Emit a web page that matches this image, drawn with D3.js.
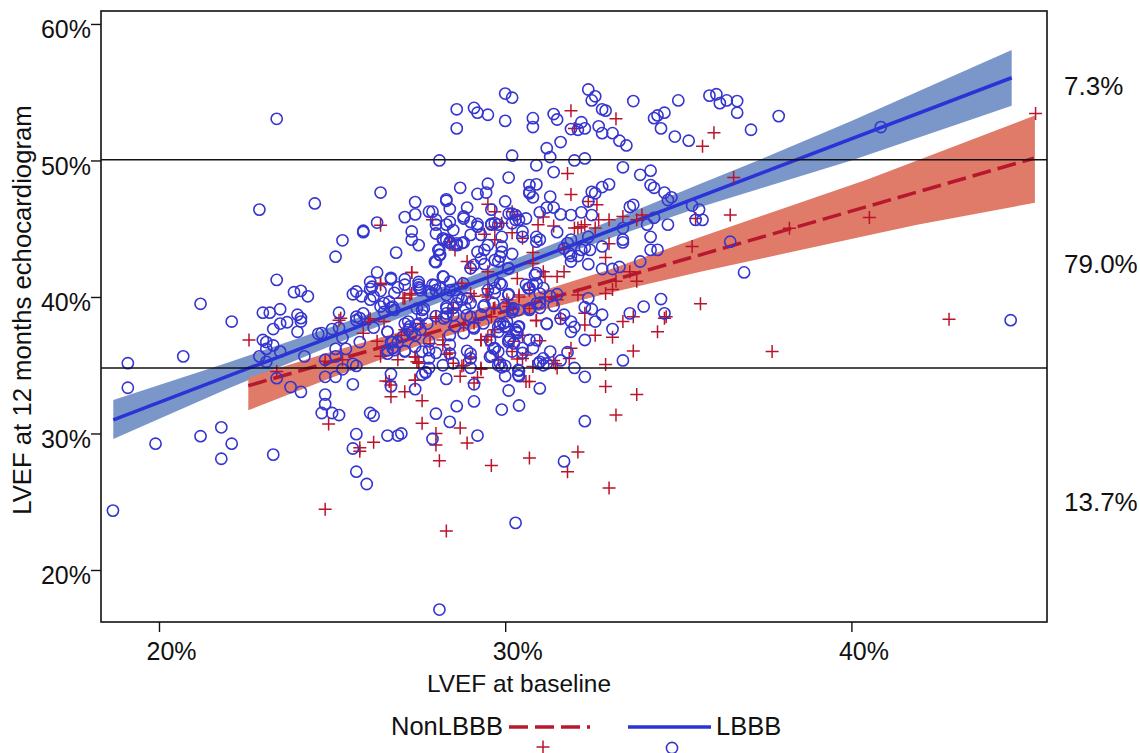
<!DOCTYPE html>
<html>
<head>
<meta charset="utf-8">
<script src="https://cdnjs.cloudflare.com/ajax/libs/d3/7.8.5/d3.min.js"></script>
<style>
  body { margin: 0; background: #fff; }
  text { font-family: "Liberation Sans", Arial, sans-serif; fill: #111; }
</style>
</head>
<body>
<svg id="chart" width="1140" height="753"></svg>
<script>
//values, all in % LVEF
const xTicks = [20, 30, 40];
const yTicks = [20, 30, 40, 50, 60];
const cutoffs = [50.05, 34.8];
const sideLabels = [["7.3%", 54.8], ["79.0%", 41.76], ["13.7%", 24.3]];

//LBBB fit and band
const lbbbFitX = [18.68, 44.63];
const lbbbFitY = [31.0, 56.06];
const lbbbBandX = [18.68, 22, 26, 29, 32, 35.64, 37.3, 40, 44.63];
const lbbbBandHi = [32.45, 35.2, 38.7, 41.5, 44.5, 48.3, 50.0, 52.9, 58.1];
const lbbbBandLo = [29.6, 33.3, 37.5, 40.5, 43.4, 46.6, 47.9, 50.0, 54.0];

//NonLBBB fit and band
const nonFitX = [22.58, 45.27];
const nonFitY = [33.5, 50.16];
const nonBandX = [22.58, 25, 28, 31, 33, 35.64, 40.46, 41.9, 45.3];
const nonBandHi = [34.1, 36.0, 38.2, 40.4, 42.0, 44.4, 48.6, 50.0, 53.3];
const nonBandLo = [31.7, 34.1, 36.9, 39.0, 40.3, 41.85, 44.5, 45.3, 46.9];

const lbbbPoints = [
[30.0,54.9],[30.2,54.6],[32.4,55.2],[32.6,54.7],[32.5,54.4],[32.8,53.75],[32.9,53.65],[33.7,54.35],[35.0,54.4],[34.6,53.5],
[34.4,53.3],[34.3,53.1],[34.5,52.35],[34.9,51.75],[35.3,51.45],[28.6,53.75],[29.1,53.85],[29.2,53.5],[29.5,53.35],[28.6,52.35],
[30.0,52.9],[30.8,53.1],[30.8,52.45],[31.4,53.4],[31.5,53.0],[32.2,52.8],[31.9,52.3],[32.1,52.25],[32.3,52.35],[32.7,52.5],
[32.8,52.0],[33.1,52.0],[33.3,51.45],[33.5,51.1],[31.6,51.35],[31.2,50.9],[31.3,50.25],[32.0,50.0],[32.3,50.15],[30.2,50.35],
[28.1,50.0],[30.9,49.65],[31.4,49.15],[33.4,49.5],[33.9,48.95],[34.2,49.25],[30.1,48.75],[33.0,48.25],[32.8,48.05],[32.5,47.7],
[32.6,47.6],[34.2,48.2],[34.3,48.0],[34.6,47.65],[34.7,47.1],[34.8,47.3],[35.4,46.7],[35.5,45.65],[28.7,48.0],[29.5,48.3],
[29.45,47.65],[29.2,47.55],[30.7,48.2],[30.9,48.25],[30.7,47.7],[30.7,47.6],[30.8,47.3],[31.3,47.35],[28.3,47.15],[28.3,47.05],
[27.4,46.95],[30.0,47.0],[28.9,46.55],[28.4,46.45],[27.9,46.25],[27.8,46.25],[27.4,46.05],[27.1,45.85],[31.2,46.55],[31.4,46.55],
[31.0,46.2],[31.6,46.05],[31.9,46.0],[32.2,46.2],[32.5,46.0],[33.6,46.6],[33.7,46.75],[32.4,47.0],[34.7,45.3],[34.3,45.8],
[34.1,45.3],[34.2,44.4],[34.2,43.45],[34.4,43.45],[33.4,45.05],[33.4,44.2],[33.4,44.0],[32.8,43.7],[32.8,42.05],[32.4,42.4],
[33.1,42.05],[33.3,42.2],[33.9,42.6],[32.2,43.45],[32.3,43.6],[32.45,43.45],[32.1,43.0],[31.9,42.6],[31.9,43.0],[31.85,43.2],
[31.9,44.2],[31.8,43.95],[31.7,43.55],[32.4,44.4],[31.5,44.75],[30.9,44.4],[31.0,44.2],[30.9,44.05],[30.5,44.8],[30.5,44.4],
[30.2,46.1],[30.3,46.0],[30.1,46.1],[30.4,45.65],[30.6,45.75],[30.3,45.65],[30.2,45.4],[29.6,46.4],[29.6,45.3],[29.7,45.4],
[29.6,45.35],[29.8,45.3],[29.9,44.4],[29.2,45.35],[29.0,45.5],[29.2,45.15],[28.8,45.9],[28.8,45.75],[29.0,44.55],[29.3,44.55],
[28.4,45.5],[28.3,45.3],[28.5,44.9],[28.0,44.65],[28.0,45.65],[28.0,45.3],[28.2,44.2],[28.3,44.2],[28.4,43.95],[28.6,43.8],
[28.75,43.95],[28.8,44.0],[27.3,44.8],[27.3,44.2],[27.5,43.8],[28.1,43.45],[28.1,43.1],[28.0,42.55],[29.2,43.3],[29.4,43.45],
[29.4,42.4],[29.8,42.6],[29.5,43.8],[29.9,43.7],[29.9,43.3],[30.2,43.15],[29.0,42.1],[29.1,42.35],[30.1,42.1],[28.2,41.5],
[30.9,41.75],[23.4,53.05],[22.9,46.4],[24.5,46.85],[26.4,47.65],[26.3,45.45],[25.9,44.85],[25.9,44.75],[25.3,44.15],[25.1,42.95],
[26.85,43.25],[26.3,41.8],[26.7,41.4],[26.1,41.1],[23.4,41.25],[21.2,39.5],[22.1,38.2],[23.0,38.85],[23.2,38.85],[23.5,39.1],
[23.9,40.35],[24.1,40.45],[24.3,40.05],[24.0,38.7],[24.1,38.45],[24.1,38.2],[23.3,37.65],[23.5,38.05],[23.7,38.15],[24.0,37.45],
[23.0,36.85],[23.1,36.7],[23.3,36.45],[23.1,36.2],[23.5,36.0],[22.9,35.65],[23.1,35.25],[24.2,35.65],[19.1,35.15],[19.1,33.35],
[20.7,35.65],[23.4,34.05],[23.8,33.4],[24.1,33.05],[24.6,37.3],[24.7,37.35],[25.0,37.65],[25.2,38.85],[25.2,37.75],[25.8,38.45],
[25.7,38.55],[25.7,38.3],[25.9,38.8],[25.6,40.2],[25.7,40.4],[25.85,40.05],[26.1,39.8],[26.2,40.05],[26.15,40.75],[26.5,39.55],
[26.7,39.2],[26.8,39.05],[26.2,37.75],[26.6,37.45],[25.3,37.0],[25.8,36.7],[25.1,36.2],[25.1,35.65],[25.4,36.2],[24.8,35.4],
[25.6,35.1],[25.7,34.95],[25.3,34.7],[24.8,34.15],[25.1,34.15],[25.6,33.6],[26.7,34.35],[26.7,33.45],[24.8,32.85],[24.8,32.15],
[24.7,31.5],[25.0,31.5],[25.2,31.35],[26.1,31.5],[26.2,31.3],[25.7,29.95],[25.6,28.9],[26.6,29.85],[26.9,29.85],[27.0,30.0],
[25.7,27.2],[21.8,30.45],[21.2,29.8],[22.1,29.25],[19.9,29.25],[21.8,28.15],[23.3,28.45],[26.6,36.1],[26.7,36.7],[26.75,36.25],
[26.6,35.85],[26.8,36.1],[18.67,24.35],[28.1,17.1],[30.3,23.45],[26.0,26.3],[44.6,38.3],[40.85,52.45],[36.9,41.8],
[36.5,44.05],[37.9,53.25],[37.1,52.25],[36.7,53.5],[36.7,54.35],[36.4,54.4],[36.2,54.2],[36.1,54.85],[35.9,54.75],[35.7,45.65],
[35.6,46.4],[34.5,39.85],[34.0,39.3],[34.6,38.8],[33.6,38.8],[33.4,35.35],[33.1,37.65],[32.8,38.7],[32.6,38.2],[32.5,39.1],
[32.4,39.9],[32.3,39.25],[32.3,36.85],[32.3,34.15],[32.0,34.8],[31.7,38.7],[31.6,38.4],[31.9,38.2],[32.0,37.8],[31.9,37.45],
[31.2,38.05],[31.4,39.35],[31.3,40.05],[31.5,40.2],[31.0,39.55],[31.0,39.2],[30.7,39.05],[31.1,40.65],[30.8,40.9],[30.6,40.9],
[30.7,40.65],[31.0,40.25],[30.1,40.2],[29.9,40.9],[29.7,40.65],[29.7,40.3],[29.4,39.4],[30.2,39.05],[30.2,38.9],[30.05,38.2],
[29.85,38.05],[30.0,37.85],[29.8,37.45],[30.4,37.85],[30.3,37.6],[30.35,37.35],[30.1,36.85],[30.25,36.6],[30.7,36.85],[30.8,36.25],
[30.5,36.25],[30.2,36.0],[30.5,35.9],[29.7,36.25],[29.8,36.0],[29.6,35.7],[29.85,35.15],[30.0,34.95],[29.9,34.85],[30.4,34.6],
[30.4,34.2],[30.0,34.2],[30.1,33.15],[31.0,33.3],[30.4,32.05],[29.9,31.75],[31.3,36.0],[31.1,35.5],[31.0,35.25],[31.1,35.0],
[31.8,35.95],[31.6,35.35],[32.3,30.9],[31.7,27.95],[29.2,29.85],[27.9,29.6],[28.4,30.85],[28.0,31.45],[28.6,32.0],[29.1,32.35],
[29.1,33.6],[28.3,34.0],[27.4,33.25],[27.6,34.3],[27.7,34.45],[27.8,34.8],[28.2,35.0],[28.5,35.15],[29.0,34.8],[27.8,35.5],
[28.0,35.9],[27.8,36.1],[27.6,36.0],[28.4,36.5],[28.4,35.85],[28.9,36.05],[29.0,35.85],[29.0,35.5],[27.8,36.75],[27.4,36.35],
[28.4,37.2],[28.8,37.35],[29.1,37.7],[29.0,38.55],[29.3,38.7],[28.55,37.85],[28.3,38.55],[28.3,38.8],[28.0,38.6],[27.45,39.15],
[27.65,39.15],[27.2,38.2],[27.1,38.05],[27.25,37.85],[27.5,38.05],[27.55,37.6],[27.75,38.05],[27.2,37.6],[27.1,36.0],[27.4,37.2],
[27.05,37.1],[27.5,40.9],[27.55,40.65],[27.9,40.9],[28.0,40.5],[27.8,40.4],[28.3,40.15],[28.3,39.3],[28.75,39.8],[28.9,39.9],
[29.0,39.55],[28.85,39.2],[28.5,39.2],[27.1,40.9],[26.7,41.3],[27.1,41.3],[26.1,40.6],[26.9,40.7],[26.8,40.3],[26.4,40.45],
[26.4,39.3],[26.5,38.9],[26.65,39.65],[26.75,39.3],[27.5,41.1],[27.5,40.7],[27.55,40.5],[27.6,38.65],[27.6,39.05],[27.3,37.35],
[27.45,37.95],[26.6,37.45],[26.75,36.7],[27.1,36.05],[26.9,36.7],[27.7,34.5],[27.97,40.87],[27.88,40.26],[28.12,40.63],[28.41,41.12],
[28.22,41.48],[28.41,40.5],[28.79,40.99],[28.65,40.02],[28.55,40.5],[28.31,39.16],[28.6,39.53],[28.22,38.43],[28.5,38.67],[28.89,38.67],
[29.08,37.8],[29.37,38.06],[29.66,41.24],[29.5,40.5],[29.85,41.0],[30.09,40.14],[29.66,39.53],[29.37,39.29],[30.0,39.29],[30.24,39.16],
[30.38,39.04],[29.95,38.06],[29.8,37.8],[30.0,37.8],[30.38,37.8],[30.33,37.45],[30.14,36.97],[30.09,36.72],[29.56,36.84],[29.66,36.23],
[29.56,35.62],[29.8,35.0],[30.38,34.65],[30.38,34.28],[30.91,36.84],[30.96,35.13],[31.2,35.13],[31.2,38.02],[30.91,39.53],[30.72,39.16],
[30.67,40.63],[30.86,41.6],[30.91,41.0],[29.85,42.95],[29.7,42.7],[30.09,42.09],[29.3,42.8],[27.97,42.6],[28.12,43.07],[28.07,43.44],
[28.2,44.3],[28.4,44.05],[28.6,43.93]
];

const nonLbbbPoints = [
[31.9,53.65],[33.2,53.05],[32.0,52.35],[35.7,51.05],[36.03,52.04],[31.8,49.05],[31.9,47.5],[32.4,47.0],[32.65,46.75],[29.5,46.8],
[29.7,46.25],[30.2,46.25],[30.35,45.9],[31.1,45.85],[30.95,45.3],[31.4,45.2],[29.9,45.4],[29.7,45.15],[29.4,44.6],[29.7,44.2],
[30.2,44.7],[30.5,44.3],[28.55,43.45],[28.4,44.05],[27.9,45.65],[32.0,45.05],[32.1,45.05],[32.2,45.15],[32.3,45.3],[32.6,45.05],
[32.7,45.65],[33.0,45.65],[33.4,45.9],[33.8,45.65],[33.95,46.0],[35.5,45.75],[33.0,43.9],[32.9,42.9],[30.8,43.25],[30.8,42.45],
[28.9,42.6],[29.0,42.1],[29.5,41.85],[27.3,41.8],[30.35,41.35],[31.1,41.85],[31.15,41.5],[31.7,41.85],[31.5,41.5],[33.6,41.85],
[31.7,43.55],[35.4,43.7],[45.32,53.45],[36.6,48.76],[36.5,46.0],[38.21,45.03],[40.52,45.83],[42.82,38.36],[37.71,36.0],[35.64,39.5],
[33.7,38.55],[33.4,38.2],[34.6,38.45],[34.65,38.55],[34.4,37.45],[33.1,37.05],[32.6,37.2],[32.3,38.8],[32.3,37.95],[31.6,38.45],
[30.9,38.25],[33.7,36.05],[32.9,35.05],[32.9,33.45],[33.8,32.85],[33.2,31.35],[32.1,28.65],[31.8,27.2],[30.7,28.2],[29.6,27.65],
[28.1,28.0],[28.0,29.15],[28.0,30.0],[28.9,29.3],[28.7,30.4],[27.6,30.75],[27.6,32.4],[27.1,33.05],[27.4,33.9],[29.1,33.7],
[28.7,34.2],[29.2,34.1],[29.3,34.8],[28.75,34.95],[28.5,35.15],[29.0,35.6],[29.3,36.85],[29.6,37.1],[29.45,36.85],[28.2,36.5],
[28.4,35.9],[27.4,35.6],[27.5,35.25],[30.25,36.75],[30.5,37.2],[31.0,36.8],[30.35,35.45],[30.5,35.5],[30.6,35.75],[30.8,34.9],
[31.4,35.35],[31.5,34.8],[31.85,35.5],[31.9,36.25],[30.6,33.8],[30.7,33.8],[29.8,35.4],[30.4,40.15],[30.1,39.55],[29.7,39.2],
[29.45,40.15],[29.1,40.05],[27.25,40.15],[27.05,39.9],[32.1,40.15],[32.9,40.25],[33.1,40.55],[33.2,41.15],[33.8,41.15],[31.5,39.8],
[31.15,40.0],[30.7,40.5],[28.0,38.45],[28.5,39.2],[28.2,36.85],[27.55,38.05],[27.1,37.6],[27.0,37.2],[29.6,38.55],[29.1,38.1],
[28.8,37.95],[29.7,37.6],[22.6,36.85],[23.4,34.55],[24.9,30.7],[25.8,28.7],[26.2,29.35],[26.7,32.7],[26.55,33.85],[26.7,33.55],
[25.2,38.3],[26.05,38.2],[26.5,38.2],[25.9,37.35],[26.3,36.75],[26.4,35.65],[26.9,35.4],[26.4,40.9],[24.8,35.3],[25.3,35.4],
[24.8,24.45],[28.3,22.85],[33.0,26.0],[25.8,28.95],[26.4,45.25],[27.3,41.8],[26.4,41.0],[27.1,39.9],[27.3,40.25],[25.25,38.45],
[26.1,38.4],[27.4,35.6],[27.45,35.25],[27.5,35.15],[27.4,33.9],[26.65,33.8],[28.75,41.0],[29.0,40.25],[29.5,40.6],[29.5,40.0],
[28.5,39.05],[30.4,40.0],[30.05,39.8],[30.1,39.3],[29.66,39.15],[30.7,39.15],[30.9,38.3],[29.3,36.85],[29.5,37.1],[30.2,36.0],
[28.8,35.0],[29.3,34.7],[28.3,35.8],[29.0,35.5],[28.0,38.55],[27.83,36.6],[31.45,35.1]
];

//legend entries
const legendNames = ["NonLBBB", "LBBB"];

const svg = d3.select("#chart");

//scales, frame corners
const x = d3.scaleLinear().domain([18.325, 45.65]).range([101, 1047]);
const y = d3.scaleLinear().domain([16.19, 60.95]).range([622, 11]);

const band = d3.area()
    .x(d => x(d[0]))
    .y0(d => y(d[2]))
    .y1(d => y(d[1]));

const fit = d3.line().x(d => x(d[0])).y(d => y(d[1]));

//bands
svg.append("path")
   .attr("d", band(lbbbBandX.map((d, i) => [d, lbbbBandHi[i], lbbbBandLo[i]])))
   .attr("fill", "#7b97c9");

svg.append("path")
   .attr("d", band(nonBandX.map((d, i) => [d, nonBandHi[i], nonBandLo[i]])))
   .attr("fill", "#e07a69");

//fit lines
svg.append("path")
   .attr("d", fit(nonFitX.map((d, i) => [d, nonFitY[i]])))
   .attr("fill", "none")
   .attr("stroke", "#b8182e")
   .attr("stroke-width", 3.5)
   .attr("stroke-dasharray", "19 7");

svg.append("path")
   .attr("d", fit(lbbbFitX.map((d, i) => [d, lbbbFitY[i]])))
   .attr("fill", "none")
   .attr("stroke", "#2a33d6")
   .attr("stroke-width", 3.5);

//markers
const plusShape = "M-6.5,0H6.5M0,-6.5V6.5";

svg.append("g").selectAll("path")
   .data(nonLbbbPoints)
   .enter().append("path")
   .attr("d", plusShape)
   .attr("transform", d => `translate(${x(d[0])}, ${y(d[1])})`)
   .attr("fill", "none")
   .attr("stroke", "#b8142c")
   .attr("stroke-width", 1.5);

svg.append("g").selectAll("circle")
   .data(lbbbPoints)
   .enter().append("circle")
   .attr("cx", d => x(d[0]))
   .attr("cy", d => y(d[1]))
   .attr("r", 5.6)
   .attr("fill", "none")
   .attr("stroke", "#3535d0")
   .attr("stroke-width", 1.6);

//cut-off lines
svg.append("g").selectAll("line")
   .data(cutoffs)
   .enter().append("line")
   .attr("x1", 101)
   .attr("x2", 1047)
   .attr("y1", d => y(d))
   .attr("y2", d => y(d))
   .attr("stroke", "#111")
   .attr("stroke-width", 1.6);

//frame
svg.append("rect")
   .attr("x", 101).attr("y", 11)
   .attr("width", 946).attr("height", 611)
   .attr("fill", "none")
   .attr("stroke", "#111")
   .attr("stroke-width", 1.6);

//axes
const xAxis = svg.append("g")
   .attr("transform", "translate(0, 622)")
   .call(d3.axisBottom(x).tickValues(xTicks).tickSize(10).tickFormat(d => d + "%"));

const yAxis = svg.append("g")
   .attr("transform", "translate(101, 0)")
   .call(d3.axisLeft(y).tickValues(yTicks).tickSize(10).tickFormat(d => d + "%"));

xAxis.select(".domain").remove();
yAxis.select(".domain").remove();
svg.selectAll(".tick line").attr("stroke", "#111").attr("stroke-width", 1.4);

xAxis.selectAll("text")
     .attr("dx", 12)
     .attr("y", 20)
     .style("font-size", "25px")
     .style("font-family", '"Liberation Sans", Arial, sans-serif');

yAxis.selectAll("text")
     .attr("x", -10)
     .attr("dy", "0.55em")
     .style("font-size", "25px")
     .style("font-family", '"Liberation Sans", Arial, sans-serif');

//axis titles
svg.append("text")
   .attr("x", 519)
   .attr("y", 692)
   .attr("text-anchor", "middle")
   .style("font-size", "24.4px")
   .text("LVEF at baseline");

svg.append("text")
   .attr("transform", "translate(31, 310) rotate(-90)")
   .attr("text-anchor", "middle")
   .style("font-size", "25.7px")
   .text("LVEF at 12 months echocardiogram");

//percentages right of the frame
svg.append("g").selectAll("text")
   .data(sideLabels)
   .enter().append("text")
   .attr("x", 1064)
   .attr("y", d => y(d[1]))
   .style("font-size", "26px")
   .text(d => d[0]);

//legend
svg.append("text")
   .attr("x", 503).attr("y", 735)
   .attr("text-anchor", "end")
   .style("font-size", "25.5px")
   .text(legendNames[0]);

svg.append("line")
   .attr("x1", 509).attr("x2", 590)
   .attr("y1", 727).attr("y2", 727)
   .attr("stroke", "#b8182e")
   .attr("stroke-width", 3.5)
   .attr("stroke-dasharray", "19 7");

svg.append("line")
   .attr("x1", 628).attr("x2", 711)
   .attr("y1", 727).attr("y2", 727)
   .attr("stroke", "#2a33d6")
   .attr("stroke-width", 3.5);

svg.append("text")
   .attr("x", 716).attr("y", 735)
   .style("font-size", "25.5px")
   .text(legendNames[1]);

svg.append("path")
   .attr("d", plusShape)
   .attr("transform", "translate(543, 747)")
   .attr("fill", "none")
   .attr("stroke", "#b8142c")
   .attr("stroke-width", 1.5);

svg.append("circle")
   .attr("cx", 672).attr("cy", 748)
   .attr("r", 5.6)
   .attr("fill", "none")
   .attr("stroke", "#3535d0")
   .attr("stroke-width", 1.6);
</script>
</body>
</html>
